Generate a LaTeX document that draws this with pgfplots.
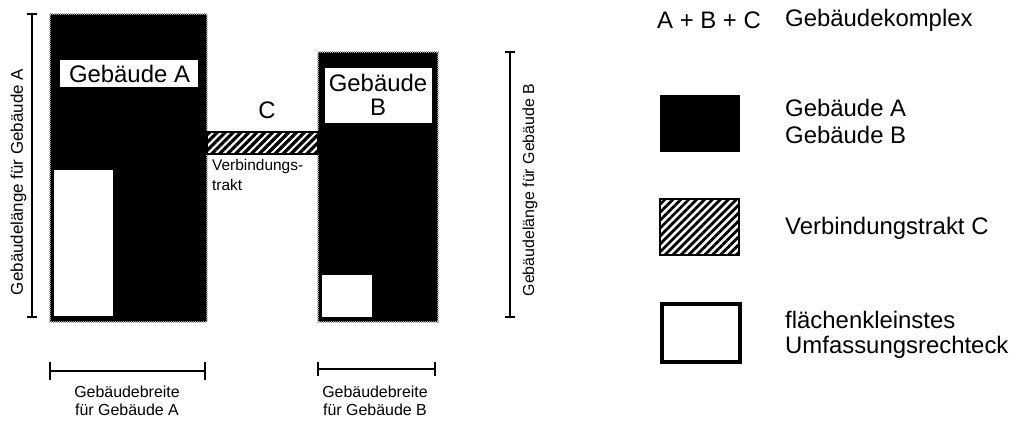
\documentclass[border=0pt]{standalone}
\usepackage{pgfplots}
\pgfplotsset{compat=1.18}
\usepackage{fontspec}
\setmainfont{Liberation Sans}
\usetikzlibrary{patterns.meta}
\newcommand{\bigf}{\fontsize{24}{28}\selectfont}
\newcommand{\smlf}{\fontsize{15.5}{18}\selectfont}
\begin{document}
\begin{tikzpicture}
\begin{axis}[width=1026bp,height=421bp,scale only axis,
  xmin=0,xmax=1026,ymin=0,ymax=421,y dir=reverse,
  axis line style={draw=none},ticks=none,
  axis background/.style={fill=white},clip=false]
% Building A
\addplot[fill=black,draw=gray!70,line width=2bp,dash pattern=on 1bp off 1bp] coordinates {(50,14) (207,14) (207,322) (50,322)} -- cycle;
\addplot[fill=white,draw=none] coordinates {(60,60) (198,60) (198,87) (60,87)} -- cycle;
\addplot[fill=white,draw=none] coordinates {(54,170) (113,170) (113,316) (54,316)} -- cycle;
% Building B
\addplot[fill=black,draw=gray!70,line width=2bp,dash pattern=on 1bp off 1bp] coordinates {(318,52) (438,52) (438,322) (318,322)} -- cycle;
\addplot[fill=white,draw=none] coordinates {(325,68) (432,68) (432,123) (325,123)} -- cycle;
\addplot[fill=white,draw=none] coordinates {(322,275) (372,275) (372,317) (322,317)} -- cycle;
% Connector C
\addplot[pattern={Lines[angle=45,distance=5.6bp,line width=3.2bp]},draw=black,line width=1.5bp] coordinates {(207,132) (318,132) (318,154) (207,154)} -- cycle;
% dimension lines
\addplot[black,line width=2.2bp] coordinates {(32,14) (32,317)};
\addplot[black,line width=2.2bp] coordinates {(27,14) (37,14)};
\addplot[black,line width=2.2bp] coordinates {(27,317) (37,317)};
\addplot[black,line width=2.2bp] coordinates {(510,52) (510,317)};
\addplot[black,line width=2.2bp] coordinates {(505,52) (515,52)};
\addplot[black,line width=2.2bp] coordinates {(505,317) (515,317)};
\addplot[black,line width=2.2bp] coordinates {(50,371) (205,371)};
\addplot[black,line width=2.2bp] coordinates {(50,362) (50,380)};
\addplot[black,line width=2.2bp] coordinates {(205,362) (205,380)};
\addplot[black,line width=2.2bp] coordinates {(318,369) (435,369)};
\addplot[black,line width=2.2bp] coordinates {(318,362) (318,376)};
\addplot[black,line width=2.2bp] coordinates {(435,362) (435,376)};
% legend boxes
\addplot[fill=black,draw=black] coordinates {(660,95) (739,95) (739,151) (660,151)} -- cycle;
\addplot[pattern={Lines[angle=45,distance=5.6bp,line width=2.8bp]},draw=black,line width=2bp] coordinates {(660,199) (739,199) (739,255) (660,255)} -- cycle;
\addplot[fill=white,draw=black,line width=3.5bp] coordinates {(662,304) (740,304) (740,362) (662,362)} -- cycle;
% texts
\node[font=\bigf] at (axis cs:129.5,74) {Gebäude A};
\node[font=\bigf] at (axis cs:378,83) {Gebäude};
\node[font=\bigf] at (axis cs:378,107) {B};
\node[font=\bigf] at (axis cs:267,110) {C};
\node[font=\smlf,anchor=west,inner sep=0pt] at (axis cs:212,167) {Verbindungs-};
\node[font=\smlf,anchor=west,inner sep=0pt] at (axis cs:212,185) {trakt};
\node[font=\fontsize{17}{20}\selectfont,rotate=90] at (axis cs:18.5,182) {Gebäudelänge für Gebäude A};
\node[font=\fontsize{16}{19}\selectfont,rotate=90] at (axis cs:530,190) {Gebäudelänge für Gebäude B};
\node[font=\fontsize{16}{19}\selectfont] at (axis cs:127,392) {Gebäudebreite};
\node[font=\fontsize{16}{19}\selectfont] at (axis cs:127,410) {für Gebäude A};
\node[font=\fontsize{16}{19}\selectfont] at (axis cs:375,392) {Gebäudebreite};
\node[font=\fontsize{16}{19}\selectfont] at (axis cs:375,410) {für Gebäude B};
\node[font=\bigf,anchor=west,inner sep=0pt] at (axis cs:657,20) {A + B + C};
\node[font=\bigf,anchor=west,inner sep=0pt] at (axis cs:785,20) {Gebäudekomplex};
\node[font=\bigf,anchor=west,inner sep=0pt] at (axis cs:785,108) {Gebäude A};
\node[font=\bigf,anchor=west,inner sep=0pt] at (axis cs:785,135) {Gebäude B};
\node[font=\bigf,anchor=west,inner sep=0pt] at (axis cs:785,228) {Verbindungstrakt C};
\node[font=\bigf,anchor=west,inner sep=0pt] at (axis cs:785,320) {flächenkleinstes};
\node[font=\bigf,anchor=west,inner sep=0pt] at (axis cs:785,347) {Umfassungsrechteck};
\end{axis}
\end{tikzpicture}
\end{document}
